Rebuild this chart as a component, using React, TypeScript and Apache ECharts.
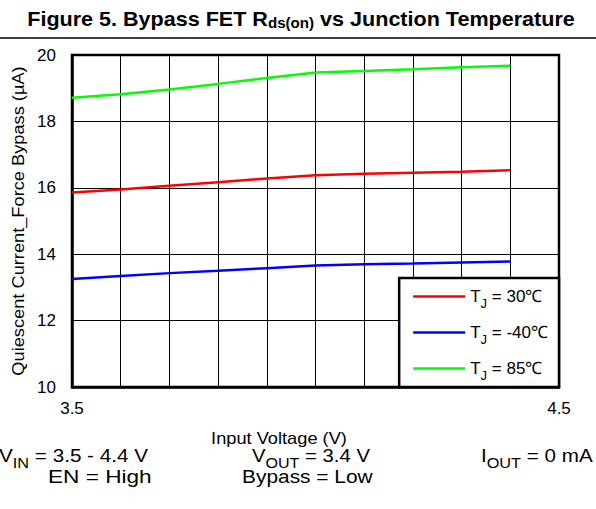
import React, { useEffect, useRef } from "react";
import * as echarts from "echarts";

const inputVoltage = [3.5, 3.6, 3.7, 3.8, 3.9, 4.0, 4.1, 4.2, 4.3, 4.4];
const iq30 = [15.86, 15.95, 16.06, 16.17, 16.28, 16.38, 16.42, 16.45, 16.48, 16.53];
const iqMinus40 = [13.25, 13.34, 13.43, 13.5, 13.58, 13.66, 13.7, 13.72, 13.75, 13.78];
const iq85 = [18.71, 18.82, 18.96, 19.13, 19.31, 19.47, 19.52, 19.57, 19.63, 19.68];
const seriesNames = ["T_J = 30℃", "T_J = -40℃", "T_J = 85℃"];
const seriesColors = ["#ff0000", "#0000ff", "#00ff00"];
const xTickLabels = [3.5, 4.5];
const yTicks = { min: 10, max: 20, interval: 2 };

const FONT = '"Liberation Sans", Arial, sans-serif';
const SX = 1.14;

export default function App() {
  const ref = useRef<HTMLDivElement>(null);
  useEffect(() => {
    if (!ref.current) return;
    const chart = echarts.init(ref.current, null, { renderer: "svg" });
    const datasets = [iq30, iqMinus40, iq85];
    const series = datasets.map((vals, i) => ({
      name: seriesNames[i],
      type: "line",
      data: inputVoltage.map((v, k) => [v, vals[k]]),
      showSymbol: false,
      symbol: "none",
      lineStyle: { color: seriesColors[i], width: 2.5 },
      itemStyle: { color: seriesColors[i] },
      z: 3,
    }));

    const subText = (x: number, y: number, text: string, sx: number) => ({
      type: "text",
      x,
      y,
      scaleX: sx,
      style: {
        text,
        font: `19px ${FONT}`,
        fill: "#000",
        lineHeight: 29,
        textAlign: "left",
        textVerticalAlign: "middle",
        rich: {
          sub: { font: `15px ${FONT}`, fill: "#000", lineHeight: 15, padding: [14, 0, 0, 0] },
        },
      },
    });

    chart.setOption({
      animation: false,
      backgroundColor: "#fff",
      grid: {
        left: 72,
        top: 55,
        right: 37,
        bottom: 122,
        show: true,
        borderColor: "#000",
        borderWidth: 2.5,
        backgroundColor: "transparent",
      },
      xAxis: {
        type: "value",
        min: 3.5,
        max: 4.5,
        interval: 0.1,
        axisLine: { show: true, lineStyle: { color: "#000", width: 2.5 } },
        axisTick: { show: false },
        splitLine: { show: true, lineStyle: { color: "#000", width: 1 } },
        axisLabel: {
          fontFamily: FONT,
          fontSize: 17,
          color: "#000",
          margin: 13,
          showMinLabel: true,
          showMaxLabel: true,
          formatter: (v: number) =>
            xTickLabels.some((t) => Math.abs(t - v) < 1e-6) ? v.toFixed(1) : "",
        },
      },
      yAxis: {
        type: "value",
        min: yTicks.min,
        max: yTicks.max,
        interval: yTicks.interval,
        axisLine: { show: true, lineStyle: { color: "#000", width: 2.5 } },
        axisTick: { show: false },
        splitLine: { show: true, lineStyle: { color: "#000", width: 1 } },
        axisLabel: { fontFamily: FONT, fontSize: 17, color: "#000", margin: 16 },
      },
      legend: {
        orient: "vertical",
        right: 37,
        bottom: 122,
        data: seriesNames,
        backgroundColor: "#fff",
        borderColor: "#000",
        borderWidth: 2.5,
        borderRadius: 0,
        padding: [5, 11, 5, 14],
        itemGap: 9,
        itemWidth: 52,
        itemHeight: 2.5,
        itemTextGap: 4,
        icon: "rect",
        selectedMode: false,
        z: 10,
        formatter: (name: string) => name.replace("T_J", "T{sub|J}"),
        textStyle: {
          fontFamily: FONT,
          fontSize: 17,
          color: "#000",
          lineHeight: 27,
          rich: {
            sub: { fontFamily: FONT, fontSize: 13, color: "#000", lineHeight: 13, padding: [14, 0, 0, 0] },
          },
        },
      },
      graphic: [
        {
          type: "text",
          x: 301,
          y: 18.3,
          scaleX: 1.078,
          style: {
            text: "Figure 5. Bypass FET R{sub|ds(on)} vs Junction Temperature",
            font: `bold 20px ${FONT}`,
            fill: "#000",
            lineHeight: 24,
            textAlign: "center",
            textVerticalAlign: "middle",
            rich: {
              sub: { font: `bold 14px ${FONT}`, fill: "#000", lineHeight: 14, padding: [10, 0, 0, 0] },
            },
          },
        },
        {
          type: "line",
          shape: { x1: 0, y1: 38, x2: 596, y2: 38 },
          style: { stroke: "#000", lineWidth: 1.5 },
        },
        {
          type: "text",
          x: 18,
          y: 221,
          rotation: Math.PI / 2,
          scaleX: SX,
          style: {
            text: "Quiescent Current_Force Bypass (µA)",
            font: `16px ${FONT}`,
            fill: "#000",
            textAlign: "center",
            textVerticalAlign: "middle",
          },
        },
        {
          type: "text",
          x: 279,
          y: 438,
          scaleX: SX,
          style: {
            text: "Input Voltage (V)",
            font: `16px ${FONT}`,
            fill: "#000",
            textAlign: "center",
            textVerticalAlign: "middle",
          },
        },
        subText(-1, 455.5, "V{sub|IN} = 3.5 - 4.4 V", 1.088),
        subText(252, 455.5, "V{sub|OUT} = 3.4 V", 1.07),
        subText(481, 455.5, "I{sub|OUT} = 0 mA", 1.085),
        subText(48, 476.5, "EN = High", 1.19),
        subText(242, 476.5, "Bypass = Low", 1.1),
      ],
      series,
    });
    return () => chart.dispose();
  }, []);
  return (
    <div
      ref={ref}
      style={{ position: "absolute", left: 0, top: 0, width: 596, height: 509 }}
    />
  );
}
